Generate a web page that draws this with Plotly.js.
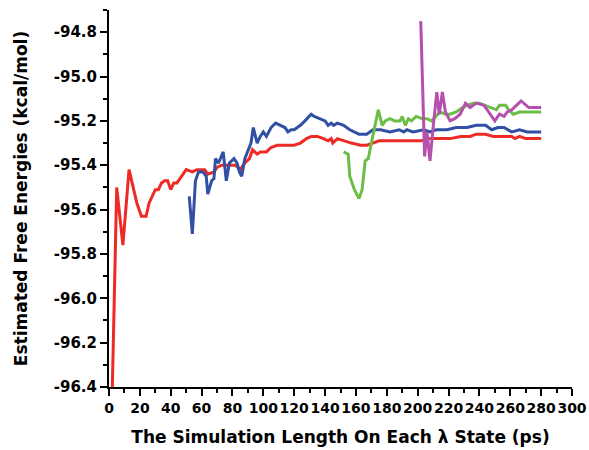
<!DOCTYPE html>
<html>
<head>
<meta charset="utf-8">
<script src="https://cdn.plot.ly/plotly-3.0.1.min.js"></script>
<style>html,body{margin:0;padding:0;background:#fff;}#chart{width:589px;height:450px;}</style>
</head>
<body>
<div id="chart"></div>
<script>
// ---- data ----
const redX = [2, 4, 5, 9, 13, 18, 21, 24, 26, 30, 32, 34, 36, 38, 40, 42, 44, 48, 50, 54, 57, 62, 64, 68, 70, 73, 76, 78, 82, 85, 88, 91, 93, 96, 98, 100, 102, 105, 109, 111, 114, 116, 120, 124, 128, 131, 135, 139, 142, 144, 145, 148, 152, 157, 163, 167, 171, 175, 178, 182, 189, 195, 202, 208, 215, 221, 228, 234, 238, 244, 249, 252, 258, 261, 263, 266, 270, 275, 280];
const redY = [-96.45, -95.80, -95.50, -95.76, -95.42, -95.57, -95.63, -95.63, -95.57, -95.51, -95.51, -95.48, -95.47, -95.47, -95.51, -95.48, -95.48, -95.44, -95.42, -95.43, -95.42, -95.42, -95.44, -95.43, -95.41, -95.40, -95.40, -95.40, -95.40, -95.42, -95.39, -95.37, -95.33, -95.35, -95.34, -95.34, -95.34, -95.32, -95.31, -95.31, -95.31, -95.31, -95.31, -95.30, -95.28, -95.27, -95.27, -95.28, -95.29, -95.28, -95.30, -95.28, -95.29, -95.30, -95.31, -95.31, -95.30, -95.29, -95.29, -95.29, -95.29, -95.29, -95.29, -95.28, -95.28, -95.28, -95.27, -95.27, -95.26, -95.26, -95.27, -95.27, -95.27, -95.27, -95.28, -95.27, -95.28, -95.28, -95.28];

const blueX = [52, 54, 56, 58, 61, 63, 64, 66.5, 68, 69, 71, 72, 74, 76, 78, 81, 83, 84.5, 86, 88, 90, 92, 93.5, 96, 98, 100, 102, 105, 108, 111, 114, 116, 118, 120, 124, 127, 131, 133, 137, 140, 142, 144, 145.5, 148, 152, 156, 162, 167, 171, 176, 182, 188, 191, 193, 197, 204, 208, 212, 219, 225, 232, 238, 244, 248, 252, 256, 261, 266, 271, 280];
const blueY = [-95.54, -95.71, -95.47, -95.43, -95.43, -95.45, -95.53, -95.47, -95.46, -95.37, -95.39, -95.37, -95.34, -95.47, -95.39, -95.37, -95.39, -95.43, -95.45, -95.37, -95.33, -95.30, -95.23, -95.30, -95.27, -95.25, -95.27, -95.23, -95.21, -95.22, -95.23, -95.25, -95.24, -95.24, -95.22, -95.20, -95.17, -95.18, -95.19, -95.20, -95.22, -95.21, -95.22, -95.21, -95.22, -95.24, -95.26, -95.26, -95.24, -95.24, -95.25, -95.24, -95.25, -95.24, -95.25, -95.24, -95.25, -95.24, -95.24, -95.23, -95.23, -95.22, -95.22, -95.24, -95.23, -95.23, -95.25, -95.24, -95.25, -95.25];

const greenX = [152, 155, 156, 159, 162, 164, 166, 168, 170, 172, 174.5, 177, 179, 182, 185, 188.5, 190, 192, 194, 196, 199, 203, 206, 209, 212, 214.5, 218, 221, 225, 229, 232, 236, 240, 244, 248, 251, 253, 257, 259, 262, 266, 271, 280];
const greenY = [-95.34, -95.35, -95.45, -95.51, -95.55, -95.51, -95.38, -95.37, -95.30, -95.23, -95.15, -95.22, -95.20, -95.19, -95.20, -95.20, -95.18, -95.22, -95.19, -95.20, -95.18, -95.19, -95.19, -95.20, -95.18, -95.16, -95.17, -95.17, -95.16, -95.14, -95.13, -95.12, -95.12, -95.13, -95.14, -95.15, -95.13, -95.13, -95.15, -95.17, -95.16, -95.16, -95.16];

const magentaX = [202, 204.5, 206, 208, 210, 212.4, 214, 216, 218, 221, 224, 227.5, 231, 234, 238, 243, 246, 250, 253, 256, 258, 261, 264, 267, 272, 277, 280];
const magentaY = [-94.75, -95.36, -95.25, -95.38, -95.23, -95.07, -95.17, -95.07, -95.16, -95.20, -95.19, -95.17, -95.12, -95.14, -95.12, -95.13, -95.16, -95.20, -95.17, -95.18, -95.16, -95.15, -95.13, -95.11, -95.14, -95.14, -95.14];

const xTickVals = [0, 20, 40, 60, 80, 100, 120, 140, 160, 180, 200, 220, 240, 260, 280, 300];
const xTickLabels = ["0", "20", "40", "60", "80", "100", "120", "140", "160", "180", "200", "220", "240", "260", "280", "300"];
const yTickVals = [-96.4, -96.2, -96.0, -95.8, -95.6, -95.4, -95.2, -95.0, -94.8];
const yTickLabels = ["-96.4", "-96.2", "-96.0", "-95.8", "-95.6", "-95.4", "-95.2", "-95.0", "-94.8"];

const xTitle = "The Simulation Length On Each \u03bb State (ps)";
const yTitle = "Estimated Free Energies (kcal/mol)";

// ---- chart ----
const lw = 3;
const traces = [
  {x: redX, y: redY, mode: 'lines', line: {color: '#ee2a24', width: lw}},
  {x: blueX, y: blueY, mode: 'lines', line: {color: '#3050a4', width: lw}},
  {x: greenX, y: greenY, mode: 'lines', line: {color: '#6cbd45', width: lw}},
  {x: magentaX, y: magentaY, mode: 'lines', line: {color: '#b550ad', width: lw}}
];

const fontFam = 'DejaVu Sans, Arial, sans-serif';
const axisCommon = {
  showgrid: false, zeroline: false, showline: true, linecolor: '#000', linewidth: 2,
  ticks: 'outside', ticklen: 7, tickwidth: 2, tickcolor: '#000',
  tickmode: 'array',
  tickfont: {family: fontFam, size: 14, color: '#000', weight: 'bold'}
};

const layout = {
  width: 589, height: 450,
  margin: {l: 109, r: 17, t: 10, b: 63},
  paper_bgcolor: '#fff', plot_bgcolor: '#fff',
  showlegend: false,
  xaxis: Object.assign({}, axisCommon, {
    range: [0, 300], tickvals: xTickVals, ticktext: xTickLabels, tickangle: 0,
    minor: {tickmode: 'linear', tick0: 0, dtick: 10, ticks: 'outside', ticklen: 4, tickwidth: 2, tickcolor: '#000'},
    title: {text: xTitle, standoff: 16, font: {family: fontFam, size: 17, color: '#000', weight: 'bold'}}
  }),
  yaxis: Object.assign({}, axisCommon, {
    range: [-96.4, -94.7], tickvals: yTickVals, ticktext: yTickLabels,
    tickfont: {family: fontFam, size: 15, color: '#000', weight: 'bold'},
    minor: {tickmode: 'linear', tick0: -96.4, dtick: 0.1, ticks: 'outside', ticklen: 4, tickwidth: 2, tickcolor: '#000'},
    title: {text: yTitle, standoff: 22, font: {family: fontFam, size: 17, color: '#000', weight: 'bold'}}
  })
};

Plotly.newPlot('chart', traces, layout, {displayModeBar: false, staticPlot: true});
</script>
</body>
</html>
